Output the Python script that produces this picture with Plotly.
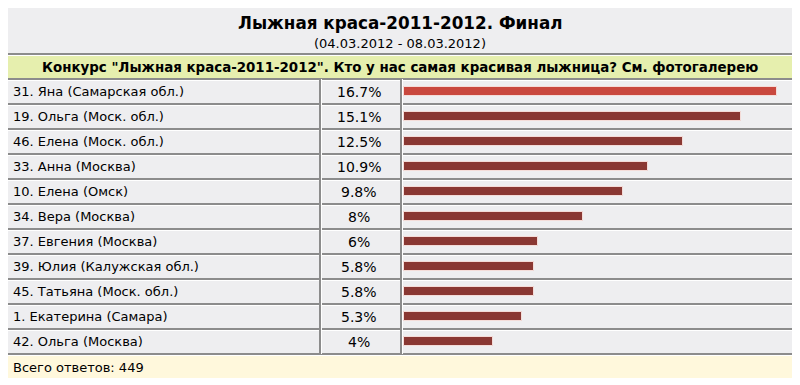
import plotly.graph_objects as go

title = "Лыжная краса-2011-2012. Финал"
subtitle = "(04.03.2012 - 08.03.2012)"
question = 'Конкурс "Лыжная краса-2011-2012". Кто у нас самая красивая лыжница? См. фотогалерею'
names = [
    "31. Яна (Самарская обл.)",
    "19. Ольга (Моск. обл.)",
    "46. Елена (Моск. обл.)",
    "33. Анна (Москва)",
    "10. Елена (Омск)",
    "34. Вера (Москва)",
    "37. Евгения (Москва)",
    "39. Юлия (Калужская обл.)",
    "45. Татьяна (Моск. обл.)",
    "1. Екатерина (Самара)",
    "42. Ольга (Москва)",
]
percents = [16.7, 15.1, 12.5, 10.9, 9.8, 8, 6, 5.8, 5.8, 5.3, 4]
total_label = "Всего ответов: 449"

# page body has an 8px default margin; figure occupies screen pixels 8..800 x 8..385
OFF = 8
W, H = 800 - OFF, 385 - OFF
ROW_TOP, ROW_H = 79, 25
BAR_X0, PX_PER_PCT = 404, 22.34

def px(x):
    return (x - OFF) / W

def py(y):
    return 1 - (y - OFF) / H

idx = list(range(len(names)))
colors = ["#c9483e"] + ["#8a3833"] * (len(names) - 1)

fig = go.Figure()
fig.add_trace(go.Bar(
    y=idx, x=percents, orientation="h", width=0.38,
    marker=dict(color=colors, line=dict(color="#f4dcd8", width=1)),
    hoverinfo="skip", showlegend=False,
))

y_at_top = (OFF - ROW_TOP - ROW_H / 2) / ROW_H
y_at_bot = (385 - ROW_TOP - ROW_H / 2) / ROW_H
x_at_left = (OFF - BAR_X0) / PX_PER_PCT
x_at_right = (800 - BAR_X0) / PX_PER_PCT

shapes = []
GRID = "#8c8c8c"
shapes.append(dict(type="rect", xref="paper", yref="paper", x0=px(8), x1=px(792),
                   y0=py(8), y1=py(355), fillcolor="#eeeef0", line=dict(width=0), layer="below"))
shapes.append(dict(type="rect", xref="paper", yref="paper", x0=px(8), x1=px(792),
                   y0=py(54), y1=py(79), fillcolor="#e6efae", line=dict(width=0), layer="below"))
shapes.append(dict(type="rect", xref="paper", yref="paper", x0=px(8), x1=px(792),
                   y0=py(355), y1=py(378), fillcolor="#fff8dc", line=dict(width=0), layer="below"))
row_lines = [54] + [ROW_TOP + ROW_H * k for k in range(len(names) + 1)]
for yl in row_lines:
    shapes.append(dict(type="line", xref="paper", yref="paper", x0=px(8), x1=px(792),
                       y0=py(yl), y1=py(yl), line=dict(color=GRID, width=2), layer="below"))
    shapes.append(dict(type="line", xref="paper", yref="paper", x0=px(8), x1=px(792),
                       y0=py(yl + 1.5), y1=py(yl + 1.5), line=dict(color="#ffffff", width=1), layer="below"))
for xl in [320, 401]:
    shapes.append(dict(type="line", xref="paper", yref="paper", x0=px(xl), x1=px(xl),
                       y0=py(ROW_TOP), y1=py(ROW_TOP + ROW_H * len(names)),
                       line=dict(color=GRID, width=2), layer="below"))
    shapes.append(dict(type="line", xref="paper", yref="paper", x0=px(xl + 1.5), x1=px(xl + 1.5),
                       y0=py(ROW_TOP), y1=py(ROW_TOP + ROW_H * len(names)),
                       line=dict(color="#ffffff", width=1), layer="below"))

FONT = "DejaVu Sans"
ann = []

def add(text, x, y, size, xanchor="center", yref="paper"):
    ann.append(dict(text=text, xref="paper", yref=yref, x=x, y=y, xanchor=xanchor, yanchor="middle",
                    showarrow=False, font=dict(family=FONT, size=size, color="#000")))

add("<b>" + title + "</b>", px(400), py(23), 16.8)
add(subtitle, px(400), py(44), 13)
add("<b>" + question + "</b>", px(400), py(67), 13.4)
for i, (n, p) in enumerate(zip(names, percents)):
    add(n, px(11), i, 13, xanchor="left", yref="y")
    add(f"{p:g}%", px(359), i, 14, yref="y")
add(total_label, px(11), py(367), 13, xanchor="left")

fig.update_layout(
    width=W, height=H, margin=dict(l=0, r=0, t=0, b=0),
    paper_bgcolor="#ffffff", plot_bgcolor="rgba(0,0,0,0)",
    xaxis=dict(range=[x_at_left, x_at_right], visible=False, fixedrange=True),
    yaxis=dict(range=[y_at_bot, y_at_top], visible=False, fixedrange=True),
    shapes=shapes, annotations=ann, bargap=0,
)
fig.write_html("out.html")
